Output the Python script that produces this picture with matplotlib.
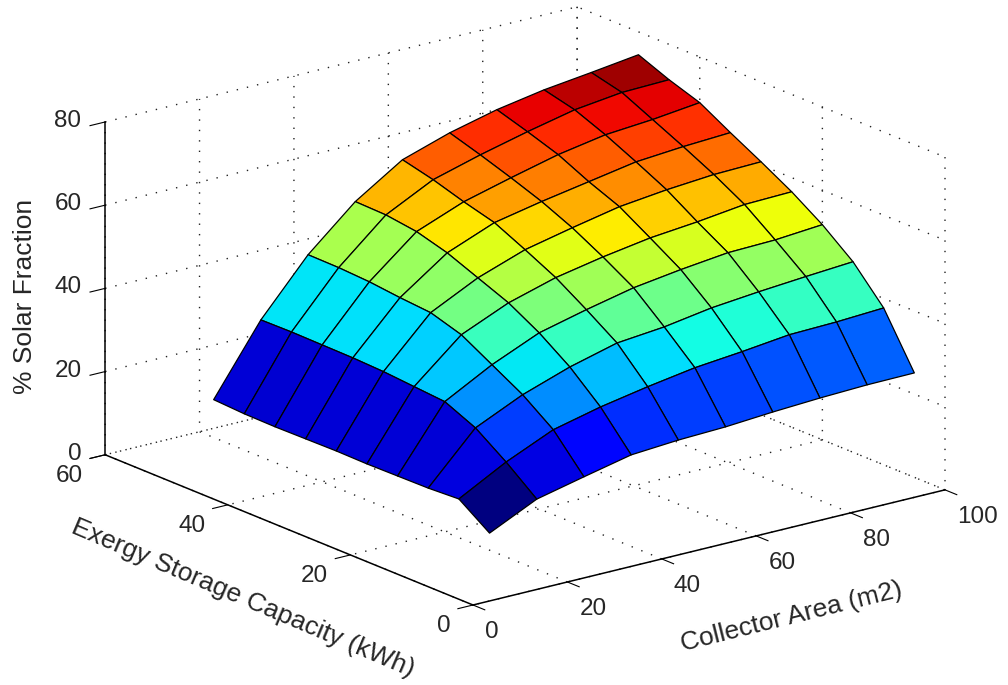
import numpy as np
import matplotlib
matplotlib.use('Agg')
import matplotlib.pyplot as plt
from mpl_toolkits.mplot3d import proj3d

collector_area = [10, 20, 30, 40, 50, 60, 70, 80, 90, 100]
storage = [5, 10, 15, 20, 25, 30, 35, 40, 45, 50]
# one row per collector area, one value per storage capacity
fraction = [
    [11.5, 16.7, 16.3, 16.2, 16.1, 16.2, 16.1, 16.0, 16.1, 16.5],
    [16.9, 22.8, 28.0, 31.3, 31.9, 32.5, 32.8, 32.9, 33.0, 32.9],
    [19.5, 27.8, 33.2, 37.4, 41.6, 43.9, 44.5, 45.3, 45.7, 45.8],
    [22.0, 30.5, 37.1, 42.3, 46.5, 49.5, 52.5, 54.6, 55.6, 55.8],
    [22.8, 32.6, 40.1, 45.1, 49.8, 53.5, 57.0, 59.0, 61.3, 63.1],
    [23.2, 34.4, 41.2, 47.6, 52.0, 56.0, 59.3, 62.0, 64.5, 66.8],
    [24.0, 35.5, 43.0, 49.2, 53.8, 58.3, 61.3, 64.8, 67.3, 69.6],
    [24.6, 36.8, 44.1, 50.5, 54.9, 59.6, 63.3, 66.8, 69.8, 71.6],
    [25.0, 37.1, 45.0, 50.8, 56.3, 60.5, 64.2, 67.7, 71.2, 73.0],
    [25.1, 37.7, 45.8, 51.7, 56.6, 60.8, 64.8, 69.0, 71.5, 74.5],
]
x_ticks = [0, 20, 40, 60, 80, 100]
y_ticks = [0, 20, 40, 60]
z_ticks = [0, 20, 40, 60, 80]

W, H = 1008, 685
plt.rcParams['font.family'] = ['Liberation Sans', 'DejaVu Sans']
plt.rcParams['grid.linestyle'] = (0, (1, 6.5))
plt.rcParams['grid.linewidth'] = 1.0
plt.rcParams['grid.color'] = '#222222'
TXT = '#262626'

fig = plt.figure(figsize=(W / 100, H / 100), dpi=100, facecolor='white')
ax = fig.add_axes([0.1, 0.1, 0.6, 0.6 * W / H], projection='3d', proj_type='ortho')
ax.patch.set_visible(False)

X, Y = np.meshgrid(collector_area, storage, indexing='ij')
Z = np.array(fraction)
norm = plt.Normalize(Z.min(), 73)
colors = matplotlib.colormaps['jet'](norm(Z))
ax.plot_surface(X, Y, Z, facecolors=colors, rstride=1, cstride=1, shade=False,
                edgecolor='black', linewidth=0.9, antialiased=True)

ax.set_xlim(0, 100)
ax.set_ylim(0, 60)
ax.set_zlim(0, 80)
ax.set_xticks(x_ticks)
ax.set_yticks(y_ticks)
ax.set_zticks(z_ticks)
ax.view_init(elev=18.4, azim=-127.7)
ax.set_box_aspect((597, 602, 351))

for axis in (ax.xaxis, ax.yaxis, ax.zaxis):
    axis.set_pane_color((1, 1, 1, 0))
    axis.pane.set_edgecolor('none')
    axis.line.set_color('black')
    axis.line.set_linewidth(1.1)
    axis._axinfo['tick']['inward_factor'] = 0.4
    axis._axinfo['tick']['outward_factor'] = 0.0
    axis.set_tick_params(labelsize=17.5, labelcolor=TXT, width=0.9, color='black')

ax.tick_params(axis='x', pad=3)
ax.tick_params(axis='y', pad=8)
ax.tick_params(axis='z', pad=1.4)

for lab in ax.xaxis.get_ticklabels():
    lab.set_ha('left')
for lab in ax.yaxis.get_ticklabels():
    lab.set_ha('right')
    lab.set_va('center')
for lab in ax.zaxis.get_ticklabels():
    lab.set_ha('right')
    lab.set_va('center')


def place_axes():
    """Scale and shift the axes so the floor corners sit where the reference has them."""
    for _ in range(3):
        ax.apply_aspect()
        M = ax.get_proj()
        pts = []
        for p in [(0, 0, 0), (100, 0, 0)]:
            sx, sy, _z = proj3d.proj_transform(*p, M)
            pts.append(ax.transData.transform((sx, sy)))
        pts = np.array(pts)
        s = (945 - 473) / (pts[1, 0] - pts[0, 0])
        box = ax.get_position()
        bw, bh = box.width * W, box.height * H
        nw, nh = bw * s, bh * s
        ox = (pts[0, 0] - box.x0 * W) * s
        oy = (pts[0, 1] - box.y0 * H) * s
        x0 = 473 - ox
        y0 = (H - 605) - oy
        ax.set_position([x0 / W, y0 / H, nw / W, nh / H])


place_axes()

fig.text(791 / W, 1 - 617 / H, 'Collector Area (m2)', fontsize=19, color=TXT,
         rotation=14, ha='center', va='center', rotation_mode='anchor')
fig.text(243 / W, 1 - 598 / H, 'Exergy Storage Capacity (kWh)', fontsize=19, color=TXT,
         rotation=-23, ha='center', va='center', rotation_mode='anchor')
fig.text(25 / W, 1 - 296 / H, '% Solar Fraction', fontsize=19, color=TXT,
         rotation=90, ha='center', va='center', rotation_mode='anchor')

fig.savefig('out.png', dpi=100, facecolor='white')
